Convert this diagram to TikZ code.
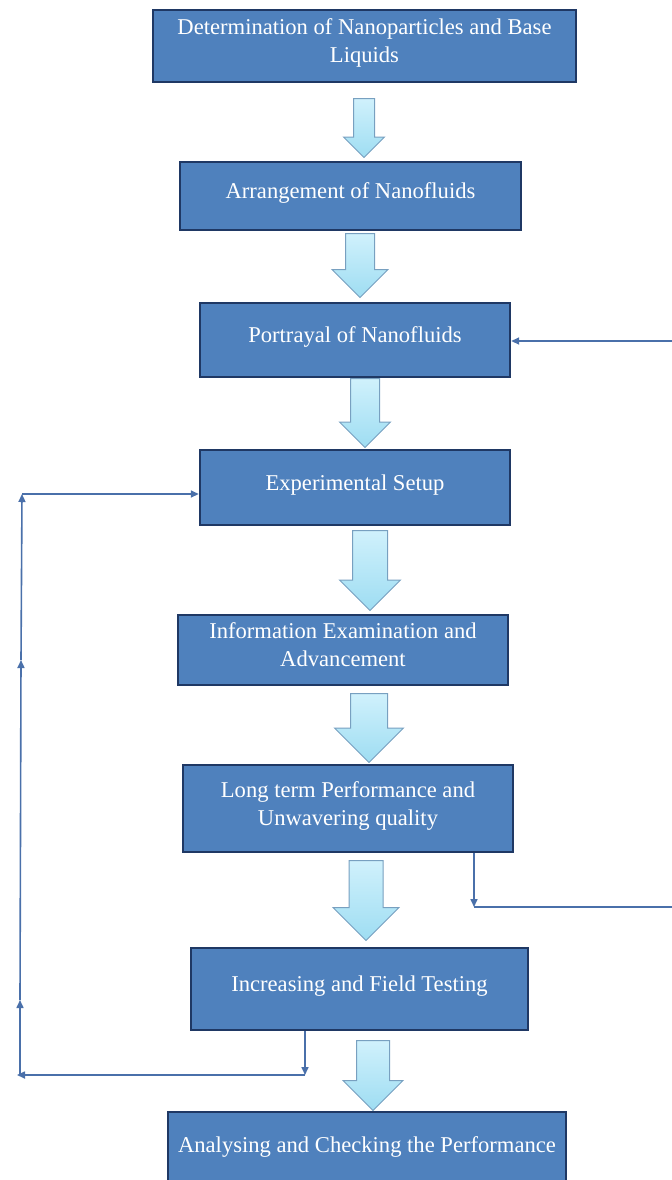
\documentclass[tikz,border=0pt]{standalone}
\usepackage{fontspec}
\setmainfont{Liberation Serif}
\usepackage{tikz}
\usetikzlibrary{arrows,arrows.meta,positioning,shapes.arrows}
\definecolor{boxfill}{RGB}{79,129,189}
\definecolor{boxline}{RGB}{31,56,100}
\definecolor{linkcol}{RGB}{74,112,170}
\definecolor{arrtop}{RGB}{208,241,252}
\definecolor{arrbot}{RGB}{158,221,242}
\definecolor{arrline}{RGB}{120,160,192}
\tikzset{every picture/.style={line width=0.5pt}}
\tikzstyle{stage}=[rectangle,draw=boxline,line width=1.2pt,fill=boxfill,text=white,align=center,
  font=\fontsize{11.3}{14}\selectfont,inner sep=2pt,text depth=5pt]
\tikzstyle{flow}=[single arrow,shape border rotate=270,anchor=tail,draw=arrline,top color=arrtop,bottom color=arrbot,
  single arrow tip angle=90]
\tikzstyle{link}=[draw=linkcol,line width=0.8pt,-{Triangle[length=4pt,width=3.5pt]}]

\begin{document}
\begin{tikzpicture}[x=0.5pt,y=-0.5pt]
\useasboundingbox (0,0) rectangle (672,1180);
\clip (0,0) rectangle (672,1180);
% stages
\node[stage,minimum width=211.5pt,minimum height=36pt] (A) at (364.5,46) {Determination of Nanoparticles and Base\\Liquids};
\node[stage,minimum width=170.5pt,minimum height=34pt] (B) at (350.5,196) {Arrangement of Nanofluids};
\node[stage,minimum width=155pt,minimum height=37pt] (C) at (355,340) {Portrayal of Nanofluids};
\node[stage,minimum width=155pt,minimum height=37.5pt] (D) at (355,487.5) {Experimental Setup};
\node[stage,minimum width=165pt,minimum height=35pt] (E) at (343,650) {Information Examination and\\Advancement};
\node[stage,minimum width=165pt,minimum height=43.5pt] (F) at (348,808.5) {Long term Performance and\\Unwavering quality};
\node[stage,minimum width=168.5pt,minimum height=41pt] (G) at (359.5,989) {Increasing and Field Testing};
\node[stage,minimum width=199pt,minimum height=38pt] (H) at (367,1150) {Analysing and Checking the Performance};
% block arrows between stages (placed by their tails)
\node[flow,minimum height=29.5pt,minimum width=20pt,inner sep=5pt,single arrow head extend=5pt] (AB) at (364,98) {};
\node[flow,minimum height=32pt,minimum width=27.5pt,inner sep=7pt,single arrow head extend=6.75pt] (BC) at (360,233) {};
\node[flow,minimum height=34.5pt,minimum width=25pt,inner sep=7pt,single arrow head extend=5.5pt] (CD) at (365,378) {};
\node[flow,minimum height=40pt,minimum width=30pt,inner sep=8.5pt,single arrow head extend=6.5pt] (DE) at (370,530) {};
\node[flow,minimum height=34.5pt,minimum width=34pt,inner sep=9pt,single arrow head extend=8pt] (EF) at (369,693) {};
\node[flow,minimum height=40pt,minimum width=32.5pt,inner sep=8.25pt,single arrow head extend=8pt] (FG) at (366,860) {};
\node[flow,minimum height=35pt,minimum width=29.5pt,inner sep=8pt,single arrow head extend=6.75pt] (GH) at (373,1040) {};
% feedback to setup
\coordinate (gdrop) at (305,1075);
\coordinate (lcorner) at (17,1075);
\coordinate (lmid1) at (20,1000);
\coordinate (lmid2) at (21,660);
\coordinate (ltop) at (22,494);
\draw[link] (G.south -| gdrop) -- (gdrop);
\draw[link] (gdrop) -- (lcorner);
\draw[link] (lcorner -| lmid1) -- (lmid1);
\draw[link] (lmid1) -- (lmid2);
\draw[link] (lmid2) -- (ltop);
\draw[link] (ltop) -- (D.west |- ltop);
% feedback to portrayal
\coordinate (fdrop) at (474,907);
\coordinate (rlow) at (678,907);
\coordinate (rhigh) at (678,341);
\draw[link] (F.south -| fdrop) -- (fdrop);
\draw[draw=linkcol,line width=0.8pt] (fdrop) -- (rlow) -- (rhigh);
\draw[link] (rhigh) -- (C.east |- rhigh);
\end{tikzpicture}
\end{document}
